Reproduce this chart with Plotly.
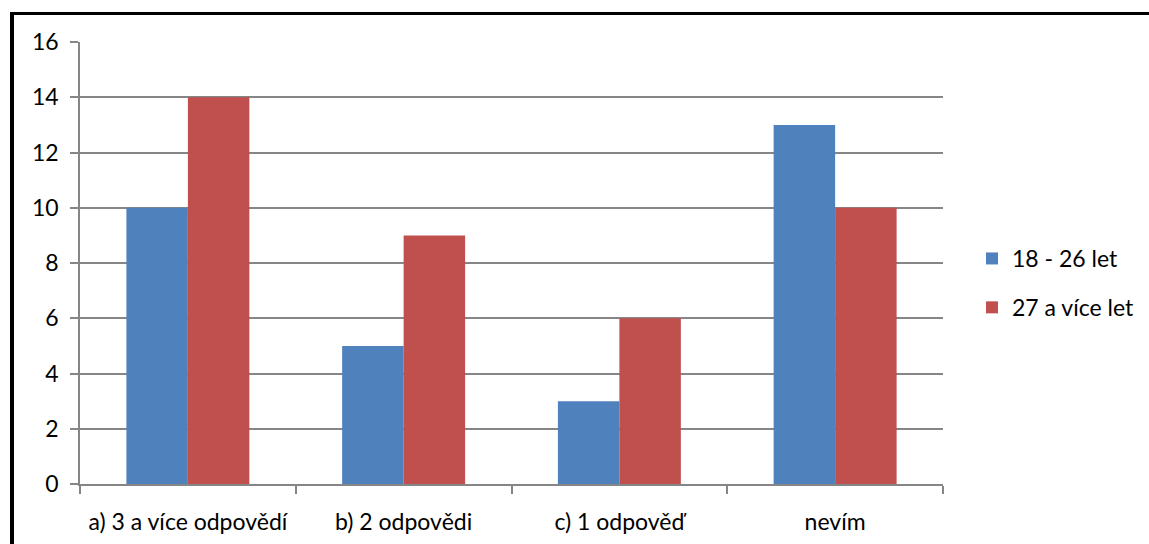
import plotly.graph_objects as go

categories = ["a) 3 a více odpovědí", "b) 2 odpovědi", "c) 1 odpověď", "nevím"]
series_names = ["18 - 26 let", "27 a více let"]
young = [10, 5, 3, 13]
older = [14, 9, 6, 10]
y_ticks = [0, 2, 4, 6, 8, 10, 12, 14, 16]

colors = ["#4F81BD", "#C0504D"]
W, H = 1149, 544
L, R, T, B = 80, 943, 42, 484
FONT = "Lato, Calibri, Carlito, sans-serif"
FS = 23

fig = go.Figure()
for i, (name, vals) in enumerate(zip(series_names, [young, older])):
    fig.add_trace(go.Bar(
        x=categories, y=vals, name=name,
        marker=dict(color=colors[i], line=dict(width=0)),
        legendgroup=name,
    ))

def px_x(p):
    return (p - L) / (R - L)

def px_y(p):
    return (B - p) / (B - T)

# black frame edges along top and left of the chart area
shapes = [
    dict(type="rect", xref="paper", yref="paper",
         x0=px_x(10), x1=px_x(W + 5), y0=px_y(15), y1=px_y(12),
         fillcolor="black", line=dict(width=0), layer="above"),
    dict(type="rect", xref="paper", yref="paper",
         x0=px_x(10), x1=px_x(14), y0=px_y(H + 5), y1=px_y(12),
         fillcolor="black", line=dict(width=0), layer="above"),
]

fig.update_layout(
    width=W, height=H,
    margin=dict(l=L, r=W - R, t=T, b=H - B, pad=0, autoexpand=False),
    paper_bgcolor="white", plot_bgcolor="white",
    barmode="group", bargap=0.43, bargroupgap=0,
    font=dict(family=FONT, size=FS, color="black"),
    showlegend=True,
    legend=dict(
        x=px_x(972), y=px_y(237), xanchor="left", yanchor="top",
        font=dict(family=FONT, size=FS, color="black"),
        tracegroupgap=16, itemwidth=30, bgcolor="rgba(0,0,0,0)",
    ),
    shapes=shapes,
)
fig.update_xaxes(
    type="category", tickson="boundaries", automargin=False, tickangle=0,
    ticks="outside", ticklen=8, tickcolor="#868686", tickwidth=1.5,
    showline=True, linecolor="#868686", linewidth=1.5,
    showgrid=False, tickfont=dict(family=FONT, size=FS),
    ticklabelstandoff=17,
)
fig.update_yaxes(
    range=[0, 16], tickvals=y_ticks, ticktext=[str(v) for v in y_ticks],
    automargin=False,
    ticks="outside", ticklen=8, tickcolor="#868686", tickwidth=1.5,
    showline=True, linecolor="#868686", linewidth=1.5,
    showgrid=True, gridcolor="#868686", gridwidth=1.5,
    zeroline=False, tickfont=dict(family=FONT, size=FS),
    ticklabelstandoff=7,
)

fig.write_html("out.html")
